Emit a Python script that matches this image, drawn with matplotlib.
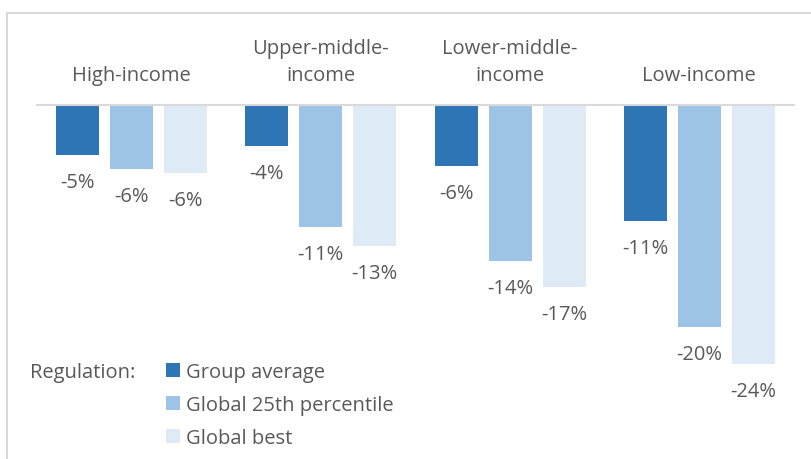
import numpy as np
import matplotlib
matplotlib.use('Agg')
import matplotlib.pyplot as plt
from matplotlib.patches import Patch
from matplotlib.lines import Line2D
import matplotlib.transforms as mtransforms

# data (percent change)
groups = ['High-income', 'Upper-middle-\nincome', 'Lower-middle-\nincome', 'Low-income']
series = ['Group average', 'Global 25th percentile', 'Global best']
group_average = [-4.6, -3.8, -5.6, -10.7]
global_p25 = [-5.9, -11.2, -14.4, -20.4]
global_best = [-6.3, -13.0, -16.7, -23.8]

colors = ['#2E75B6', '#9DC3E6', '#DEEBF7']
txt = '#595959'
fs = 14.5

plt.rcParams['font.family'] = ['Open Sans', 'DejaVu Sans']

W, H = 812, 460
fig = plt.figure(figsize=(W / 100, H / 100), dpi=100)

# axes: zero line near y=105 px from top, 10.9 px per percent
zero_px = 105.5
ppp = 10.9
ax = fig.add_axes([37 / W, 0, 757 / W, (H - zero_px) / H])
ax.set_xlim(-0.5, 3.5)
ax.set_ylim(-(H - zero_px) / ppp, 0)
ax.axis('off')

x = np.arange(len(groups))
bw = 0.227
step = 0.285
for k, vals in enumerate([group_average, global_p25, global_best]):
    xs = x + (k - 1) * step
    ax.bar(xs, vals, bw, color=colors[k], clip_on=False, zorder=2)
    for xi, v in zip(xs, vals):
        ax.annotate('%d%%' % round(v), (xi, v), xytext=(0, -17),
                    textcoords='offset pixels', ha='center', va='top',
                    fontsize=fs, color=txt, annotation_clip=False)

# zero line
ax.axhline(0, color='#D9D9D9', lw=1.5, zorder=3, clip_on=False)

# category labels above the zero line
trans = mtransforms.blended_transform_factory(ax.transData, fig.transFigure)
for xi, g in zip(x, groups):
    ax.text(xi, (H - 86) / H, g, transform=trans, ha='center', va='bottom',
            fontsize=fs, color=txt, linespacing=1.47)

# legend
fig.text(30 / W, (H - 373) / H, 'Regulation:', fontsize=fs, color=txt,
         va='center', ha='left')
handles = [Patch(facecolor=c, edgecolor='none') for c in colors]
fig.legend(handles, series, loc='upper left',
           bbox_to_anchor=(158 / W, (H - 355) / H), frameon=False,
           fontsize=fs, labelcolor=txt, handlelength=0.7, handleheight=0.7,
           handletextpad=0.3, labelspacing=0.64, borderaxespad=0)

# outer frame (cut off on right and bottom)
fig.add_artist(Line2D([7 / W, 1], [(H - 14) / H] * 2, transform=fig.transFigure,
                      color='#D9D9D9', lw=1.5))
fig.add_artist(Line2D([7 / W] * 2, [0, (H - 14) / H], transform=fig.transFigure,
                      color='#D9D9D9', lw=1.5))

fig.savefig('out.png', dpi=100)
